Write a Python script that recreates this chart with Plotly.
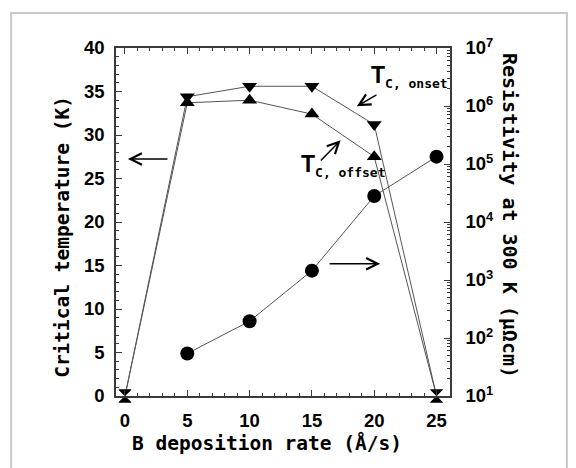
import plotly.graph_objects as go

# ---- data ----
rate = [0, 5, 10, 15, 20, 25]
tc_onset = [0, 34.4, 35.6, 35.6, 31.2, 0]
tc_offset = [0, 33.7, 34.0, 32.4, 27.5, 0]
rate_rho = [5, 10, 15, 20, 25]
resistivity = [54, 195, 1450, 28000, 134000]

x_ticks = [0, 5, 10, 15, 20, 25]
y_ticks = [0, 5, 10, 15, 20, 25, 30, 35, 40]
rho_tickvals = [1e1, 1e2, 1e3, 1e4, 1e5, 1e6, 1e7]
rho_ticktext = ["10<sup>1</sup>", "10<sup>2</sup>", "10<sup>3</sup>", "10<sup>4</sup>",
                "10<sup>5</sup>", "10<sup>6</sup>", "10<sup>7</sup>"]

TICKFONT = dict(family="Liberation Sans Narrow, Arial Narrow, sans-serif", size=18.5, color="black", weight="bold")
TITLEFONT = dict(family="DejaVu Sans Mono, Liberation Mono, monospace", size=19.5, color="black", weight="bold")
AXCOL = "#3a3a3a"
LINECOL = "#555555"

def syms(vals, base):
    return ["hourglass" if v == 0 else base for v in vals]

fig = go.Figure()
fig.add_trace(go.Scatter(x=rate, y=tc_onset, mode="lines+markers",
                         line=dict(color=LINECOL, width=1),
                         marker=dict(symbol=syms(tc_onset, "triangle-down"), size=13, color="black"),
                         cliponaxis=False, showlegend=False))
fig.add_trace(go.Scatter(x=rate, y=tc_offset, mode="lines+markers",
                         line=dict(color=LINECOL, width=1),
                         marker=dict(symbol=syms(tc_offset, "triangle-up"), size=13, color="black"),
                         cliponaxis=False, showlegend=False))
fig.add_trace(go.Scatter(x=rate_rho, y=resistivity, mode="lines+markers", yaxis="y2",
                         line=dict(color=LINECOL, width=1),
                         marker=dict(symbol="circle", size=14, color="black"),
                         cliponaxis=False, showlegend=False))

fig.update_layout(
    width=576, height=468,
    margin=dict(l=116, r=126, t=48, b=72, autoexpand=False),
    paper_bgcolor="white", plot_bgcolor="white",
    xaxis=dict(range=[-0.72, 26.08], tickvals=x_ticks, ticks="inside", ticklen=6,
               tickcolor=AXCOL, showline=True, linecolor=AXCOL, linewidth=1.5,
               mirror="ticks", showgrid=False, zeroline=False, tickfont=TICKFONT,
               ticklabelstandoff=7,
               minor=dict(dtick=1, ticks="inside", ticklen=3, tickcolor=AXCOL)),
    yaxis=dict(range=[0, 40], tickvals=y_ticks, ticks="inside", ticklen=6,
               tickcolor=AXCOL, showline=True, linecolor=AXCOL, linewidth=1.5,
               showgrid=False, zeroline=False, tickfont=TICKFONT, ticklabelstandoff=6,
               minor=dict(dtick=1, ticks="inside", ticklen=3, tickcolor=AXCOL)),
    yaxis2=dict(overlaying="y", side="right", type="log", range=[1, 7],
                tickvals=rho_tickvals, ticktext=rho_ticktext,
                ticks="inside", ticklen=6, tickcolor=AXCOL,
                showline=True, linecolor=AXCOL, linewidth=1.5, showgrid=False,
                zeroline=False, tickfont=TICKFONT, ticklabelstandoff=10,
                minor=dict(dtick="D1", ticks="inside", ticklen=3, tickcolor=AXCOL)),
)

# outer frame
fig.add_shape(type="rect", xref="paper", yref="paper",
              x0=-0.314, x1=1.350, y0=-0.25, y1=1.1006,
              line=dict(color="#c8c8c8", width=2), layer="below")

# axis titles
fig.add_annotation(text="Critical temperature (K)", xref="paper", yref="paper",
                   x=-0.159, y=0.457, xanchor="center", yanchor="middle",
                   textangle=-90, showarrow=False, font=TITLEFONT)
fig.add_annotation(text="B deposition rate (Å/s)", xref="paper", yref="paper",
                   x=0.452, y=-0.135, xanchor="center", yanchor="middle",
                   showarrow=False, font=TITLEFONT)
fig.add_annotation(text="Resistivity at 300 K (μΩcm)", xref="paper", yref="paper",
                   x=1.18, y=0.52, xanchor="center", yanchor="middle",
                   textangle=90, showarrow=False, font=dict(TITLEFONT, size=20))

# labels
LBL = dict(family="Liberation Sans Narrow, Arial Narrow, sans-serif", size=23, color="black", weight="bold")
SUB = "<sub><span style='font-family:DejaVu Sans Mono;font-size:13px'>{}</span></sub>"
fig.add_annotation(text="T" + SUB.format("C, onset"),
                   x=19.6, y=36.7, xanchor="left", yanchor="middle", showarrow=False, font=LBL)
fig.add_annotation(text="T" + SUB.format("C, offset"),
                   x=14.0, y=26.45, xanchor="left", yanchor="middle", showarrow=False, font=LBL)

# arrows
ARR = dict(showarrow=True, arrowhead=5, arrowsize=1.5, arrowwidth=1.5, arrowcolor="black",
           axref="x", ayref="y", text="")
fig.add_annotation(x=0.24, y=27.25, ax=3.53, ay=27.25, **ARR)
fig.add_annotation(x=20.47, y=15.2, ax=16.3, ay=15.2, **ARR)
fig.add_annotation(x=18.6, y=33.3, ax=20.3, ay=34.7, **ARR)
fig.add_annotation(x=17.3, y=29.4, ax=15.6, ay=26.9, **ARR)

fig.write_html("out.html", config={"displayModeBar": False},
               post_script="document.body.style.margin='0px';")
